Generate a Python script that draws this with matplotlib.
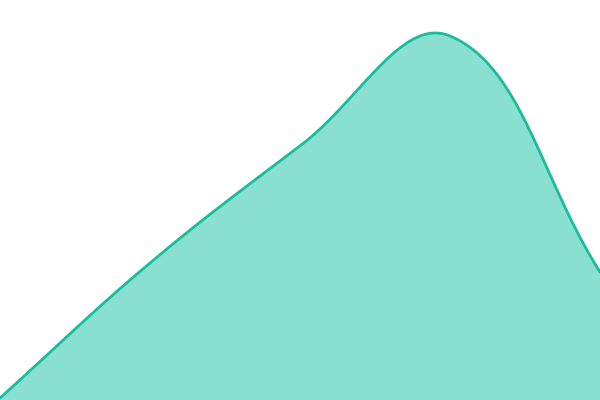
import numpy as np
import matplotlib
matplotlib.use("Agg")
import matplotlib.pyplot as plt

labels = ["A", "B", "C", "D", "E"]
values = [0, 135, 252, 362, 126]

line_color = "#1abc9c"
fill_color = "#89e0d0"

fig = plt.figure(figsize=(6, 4), dpi=100)
ax = fig.add_axes([0, 0, 1, 1])
ax.set_xlim(0, len(values) - 1)
ax.set_ylim(-2, 398)
ax.axis("off")

# smooth curve like a tension spline, computed in pixel space
pts = ax.transData.transform(np.column_stack([np.arange(len(values)), values]))
tension = 0.4
n = len(pts)
cps = []
for i in range(n):
    prev = pts[max(i - 1, 0)]
    cur = pts[i]
    nxt = pts[min(i + 1, n - 1)]
    d01 = np.hypot(*(cur - prev))
    d12 = np.hypot(*(nxt - cur))
    s01 = d01 / (d01 + d12) if d01 + d12 else 0
    s12 = d12 / (d01 + d12) if d01 + d12 else 0
    fa = tension * s01
    fb = tension * s12
    c1 = cur - fa * (nxt - prev)
    c2 = cur + fb * (nxt - prev)
    c1[1] = np.clip(c1[1], 0, 400)
    c2[1] = np.clip(c2[1], 0, 400)
    cps.append((c1, c2))

curve = []
t = np.linspace(0, 1, 60)[:, None]
for i in range(n - 1):
    p0 = pts[i]
    p1 = cps[i][1]
    p2 = cps[i + 1][0]
    p3 = pts[i + 1]
    seg = (1 - t) ** 3 * p0 + 3 * (1 - t) ** 2 * t * p1 + 3 * (1 - t) * t ** 2 * p2 + t ** 3 * p3
    curve.append(seg)
curve = ax.transData.inverted().transform(np.vstack(curve))

ax.fill_between(curve[:, 0], curve[:, 1], -2, color=fill_color, lw=0)
ax.plot(curve[:, 0], curve[:, 1], color=line_color, lw=2.0, solid_capstyle="round")

fig.savefig("out.png", dpi=100)
